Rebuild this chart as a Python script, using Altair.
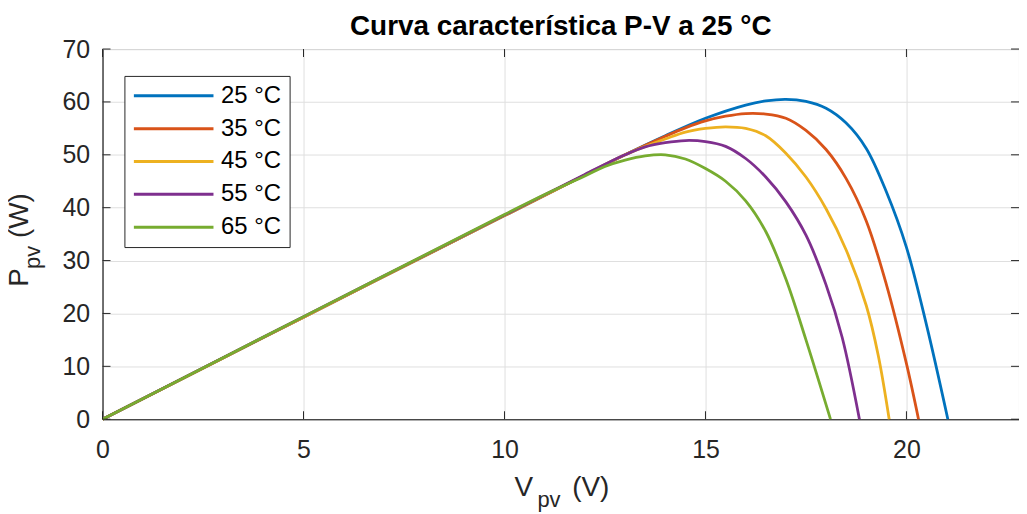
import altair as alt
import pandas as pd

labels = ["25 °C", "35 °C", "45 °C", "55 °C", "65 °C"]
colors = ["#0072BD", "#D95319", "#EDB120", "#7E2F8E", "#77AC30"]

v25 = [0, 5, 10, 12, 13, 14, 15, 16, 16.5, 17, 17.5, 18, 18.5, 19, 19.5, 20, 20.5, 21.03]
p25 = [0, 19.3, 38.5, 46.2, 50.0, 53.6, 56.9, 59.4, 60.2, 60.5, 60.1, 58.8, 56.0, 51.2, 43.0, 32.5, 17.8, 0]
v35 = [0, 5, 10, 12, 13, 14, 14.5, 15, 15.5, 16, 16.5, 17, 17.5, 18, 18.5, 19, 19.5, 20, 20.3]
p35 = [0, 19.3, 38.5, 46.2, 50.0, 53.5, 55.1, 56.4, 57.3, 57.8, 57.7, 56.9, 54.6, 51.0, 45.5, 37.5, 25.5, 10.5, 0]
v45 = [0, 5, 10, 12, 13, 13.5, 14, 14.5, 15, 15.5, 16, 16.5, 17, 17.5, 18, 18.5, 19, 19.3, 19.57]
p45 = [0, 19.3, 38.5, 46.2, 50.0, 51.6, 53.0, 54.3, 55.0, 55.3, 55.0, 53.6, 50.3, 45.8, 39.8, 32.0, 21.5, 12.0, 0]
v55 = [0, 5, 10, 12, 13, 13.5, 14, 14.5, 15, 15.5, 16, 16.5, 17, 17.5, 18, 18.4, 18.83]
p55 = [0, 19.4, 38.6, 46.3, 50.0, 51.5, 52.3, 52.7, 52.5, 51.6, 49.3, 45.8, 41.1, 34.8, 25.4, 15.5, 0]
v65 = [0, 5, 10, 11, 12, 12.5, 13, 13.5, 14, 14.5, 15, 15.5, 16, 16.5, 17, 17.5, 18.11]
p65 = [0, 19.4, 38.7, 42.5, 46.0, 47.8, 49.0, 49.8, 50.0, 49.2, 47.4, 45.0, 41.3, 35.5, 26.5, 15.0, 0]

x_ticks = [0, 5, 10, 15, 20]
y_ticks = [0, 10, 20, 30, 40, 50, 60, 70]

series = [(v25, p25), (v35, p35), (v45, p45), (v55, p55), (v65, p65)]
rows = []
for lab, (vs, ps) in zip(labels, series):
    for v, p in zip(vs, ps):
        rows.append({"V": v, "P": p, "T": lab})
df = pd.DataFrame(rows)

FONT = "Liberation Sans"
DARK = "#262626"
W, H = 921, 372
TICK = 8

xscale = alt.Scale(domain=[0, 22.8], nice=False, zero=False)
yscale = alt.Scale(domain=[0, 70], nice=False)

lines = alt.Chart(df).mark_line(strokeWidth=2.8, interpolate="catmull-rom").encode(
    x=alt.X("V:Q", scale=xscale,
            axis=alt.Axis(values=x_ticks, title=None, grid=True, labelFontSize=25,
                          labelPadding=18, ticks=False, format="d", labelFlush=False)),
    y=alt.Y("P:Q", scale=yscale,
            axis=alt.Axis(values=y_ticks, title=None, grid=True, labelFontSize=25,
                          labelPadding=13, ticks=False, format="d", labelFlush=False)),
    color=alt.Color("T:N", scale=alt.Scale(domain=labels, range=colors),
                    legend=alt.Legend(orient="none", legendX=22, legendY=27, title=None,
                                      padding=8, strokeColor=DARK, fillColor="white",
                                      symbolType="stroke", symbolSize=6400,
                                      symbolStrokeWidth=3, labelFontSize=24,
                                      labelFont=FONT, labelColor="#000000",
                                      rowPadding=9, clipHeight=24, labelOffset=6)),
    order=alt.Order("T:N", sort="descending"),
)

xt = pd.DataFrame({"v": x_ticks})
yt = pd.DataFrame({"v": y_ticks})

def xtick(y0, y1):
    return alt.Chart(xt).mark_rule(color=DARK, strokeWidth=1).encode(
        x=alt.X("v:Q", scale=xscale), y=alt.value(y0), y2=alt.value(y1))

def ytick(x0, x1):
    return alt.Chart(yt).mark_rule(color=DARK, strokeWidth=1).encode(
        y=alt.Y("v:Q", scale=yscale), x=alt.value(x0), x2=alt.value(x1))

ticks = [xtick(H, H - TICK), xtick(0, TICK), ytick(0, TICK), ytick(W, W - TICK)]

one = alt.Data(values=[{}])

def txt(t, x, y, size, angle=0, align="left", weight="normal", color=DARK):
    return alt.Chart(one).mark_text(text=t, font=FONT, fontSize=size, color=color,
                                    align=align, baseline="alphabetic", angle=angle,
                                    fontWeight=weight).encode(
        x=alt.value(x), y=alt.value(y))

titles = [
    txt("Curva característica P-V a 25 °C", W / 2, -14, 28, align="center",
        weight="bold", color="#000000"),
    txt("V", 414, 449, 28),
    txt("pv", 437, 460, 22),
    txt("(V)", 472, 449, 28),
    txt("P", -75, 239, 28, angle=270),
    txt("pv", -63, 221, 22, angle=270),
    txt("(W)", -75, 190, 28, angle=270),
]

chart = alt.layer(lines, *ticks, *titles).properties(
    width=W, height=H,
    autosize=alt.AutoSizeParams(type="none"),
    padding={"left": 95, "top": 40, "right": 0, "bottom": 92},
).configure_axis(
    domainColor=DARK, labelColor=DARK, labelFont=FONT,
    gridColor="#dfdfdf", gridWidth=1, domainWidth=1,
).configure_view(stroke=DARK, strokeWidth=1)

chart.save("out.html", embed_options={"renderer": "svg", "actions": False})
